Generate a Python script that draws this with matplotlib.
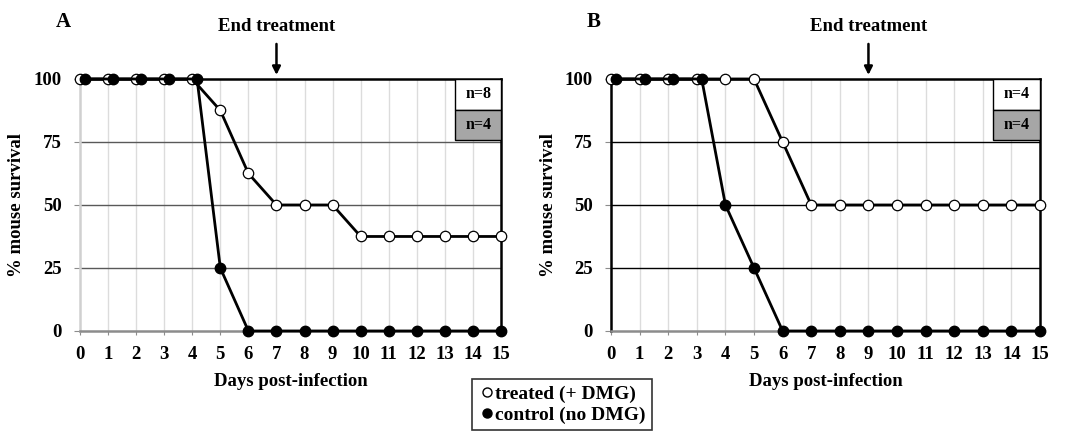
import numpy as np
import matplotlib.pyplot as plt
from matplotlib.patches import Rectangle
from matplotlib.lines import Line2D

plt.rcParams['font.family'] = ['Liberation Serif', 'DejaVu Serif']
plt.rcParams['font.weight'] = 'bold'

days = np.arange(16)
treated_a = [100, 100, 100, 100, 100, 87.5, 62.5, 50, 50, 50, 37.5, 37.5, 37.5, 37.5, 37.5, 37.5]
control_a = [100, 100, 100, 100, 100, 25, 0, 0, 0, 0, 0, 0, 0, 0, 0, 0]
treated_b = [100, 100, 100, 100, 100, 100, 75, 50, 50, 50, 50, 50, 50, 50, 50, 50]
control_b = [100, 100, 100, 100, 50, 25, 0, 0, 0, 0, 0, 0, 0, 0, 0, 0]
n_treated = ['n=8', 'n=4']
n_control = ['n=4', 'n=4']
end_day = [7, 9]
panel_labels = ['A', 'B']
yticks = [0, 25, 50, 75, 100]

fig = plt.figure(figsize=(10.72, 4.37), dpi=100)
ax_a = fig.add_axes([0.0746, 0.2426, 0.3928, 0.5767])
ax_b = fig.add_axes([0.570, 0.2426, 0.4002, 0.5767])


def draw(ax, treated, control, nt, nc, eday, label, hcol, left_col):
    treated = np.array(treated)
    control = np.array(control)
    # shift control dots a little right where both groups overlap at 100
    shift = np.where((control == 100) & (treated == 100), 0.17, 0.0)
    xc = days + shift

    ax.set_xlim(0, 15)
    ax.set_ylim(0, 100)
    for d in days[1:-1]:
        ax.axvline(d, color='#dcdcdc', lw=1.0, zorder=0)
    for y in [25, 50, 75]:
        ax.axhline(y, color=hcol, lw=1.0, zorder=1)

    ax.plot(days, treated, color='black', lw=2.0, marker='o', ms=7.5,
            mfc='white', mec='black', mew=0.9, zorder=3, clip_on=False)
    ax.plot(xc, control, color='black', lw=2.0, marker='o', ms=7.5,
            mfc='black', mec='black', zorder=4, clip_on=False)

    for s in ['top', 'right']:
        ax.spines[s].set_color('black')
        ax.spines[s].set_linewidth(1.8)
    ax.spines['left'].set_color(left_col)
    ax.spines['left'].set_linewidth(1.8)
    ax.spines['bottom'].set_color('#8c8c8c')
    ax.spines['bottom'].set_linewidth(1.8)

    ax.set_xticks(days)
    ax.set_yticks(yticks)
    ax.tick_params(axis='both', labelsize=13.5, length=4, color='#8c8c8c', pad=9)
    ax.tick_params(axis='x', length=3, pad=8)
    for t in ax.get_xticklabels() + ax.get_yticklabels():
        t.set_fontweight('bold')
    ax.set_xlabel('Days post-infection', fontsize=13.5, fontweight='bold', labelpad=7)
    ax.set_ylabel('% mouse survival', fontsize=13.5, fontweight='bold', labelpad=6)

    # n boxes
    bw, bh = 0.109, 0.122
    ax.add_patch(Rectangle((1 - bw, 1 - bh), bw, bh, transform=ax.transAxes,
                           facecolor='white', edgecolor='black', lw=1.0, zorder=5))
    ax.add_patch(Rectangle((1 - bw, 1 - 2 * bh), bw, bh, transform=ax.transAxes,
                           facecolor='#a6a6a6', edgecolor='black', lw=1.0, zorder=5))
    ax.text(1 - bw / 2, 1 - bh / 2, nt, transform=ax.transAxes, ha='center',
            va='center', fontsize=11.5, fontweight='bold', zorder=6)
    ax.text(1 - bw / 2, 1 - 1.5 * bh, nc, transform=ax.transAxes, ha='center',
            va='center', fontsize=11.5, fontweight='bold', zorder=6)

    # end treatment arrow
    ax.annotate('', xy=(eday, 100.5), xytext=(eday, 115), xycoords='data',
                arrowprops=dict(arrowstyle='-|>', color='black', lw=1.8,
                                mutation_scale=12), annotation_clip=False)
    ax.text(eday, 117.5, 'End treatment', ha='center', va='bottom',
            fontsize=13.5, fontweight='bold')
    ax.text(-0.058, 1.185, label, transform=ax.transAxes, ha='left', va='bottom',
            fontsize=15, fontweight='bold')


draw(ax_a, treated_a, control_a, n_treated[0], n_control[0], end_day[0],
     panel_labels[0], '#595959', '#d0d0d0')
draw(ax_b, treated_b, control_b, n_treated[1], n_control[1], end_day[1],
     panel_labels[1], 'black', 'black')

handles = [Line2D([], [], ls='none', marker='o', ms=6.5, mfc='white', mec='black'),
           Line2D([], [], ls='none', marker='o', ms=6.5, mfc='black', mec='black')]
leg = fig.legend(handles, ['treated (+ DMG)', 'control (no DMG)'],
                 loc='upper left', bbox_to_anchor=(472 / 1072, 1 - 379 / 437),
                 frameon=True, fancybox=False, edgecolor='black', fontsize=14,
                 handletextpad=0.0, handlelength=0.9, borderpad=0.3,
                 labelspacing=0.2, borderaxespad=0)
leg.get_frame().set_linewidth(1.2)
for t in leg.get_texts():
    t.set_fontweight('bold')

fig.savefig('out.png', dpi=100)
